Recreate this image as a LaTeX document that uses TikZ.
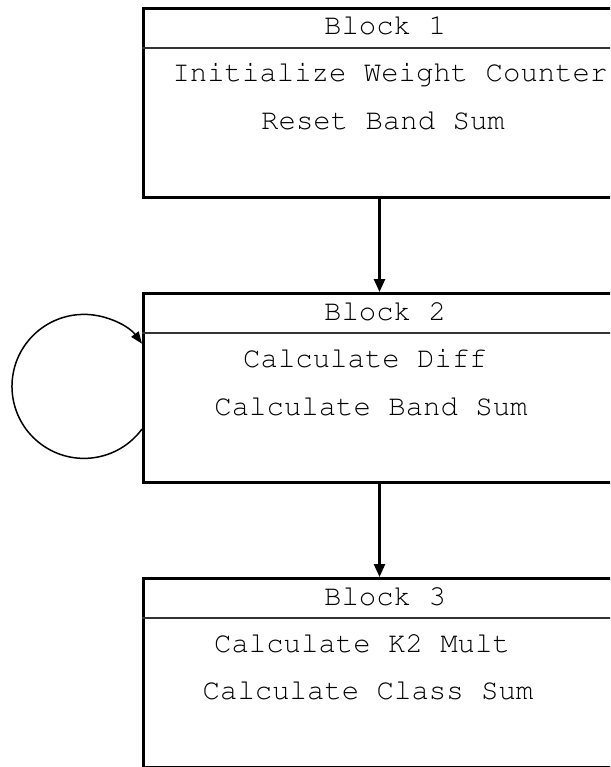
\documentclass[tikz,border=0pt]{standalone}
\usepackage[T1]{fontenc}
\usetikzlibrary{arrows.meta}
\tikzset{
  blockbox/.style={draw=black, line width=3pt, rectangle, minimum width=486pt, minimum height=189pt, anchor=north west, inner sep=0pt},
  headline/.style={draw=black!80, line width=2pt},
  txt/.style={anchor=base, inner sep=0pt, font=\fontfamily{pcr}\fontsize{29}{34}\selectfont},
  arr/.style={line width=2.5pt, -{Triangle[length=13pt,width=11pt]}},
  loopline/.style={line width=1.5pt, -{Triangle[length=12pt,width=9pt]}}
}
\begin{document}
\begin{tikzpicture}[x=1pt,y=-1pt]
\clip (0,0) rectangle (610,767);
\fill[white] (0,0) rectangle (610,767);
% boxes
\node[blockbox] (b1) at (142,7) {};
\node[blockbox] (b2) at (142,292) {};
\node[blockbox] (b3) at (142,577) {};
% header lines
\draw[headline] ([yshift=-41pt]b1.north west) -- ([yshift=-41pt]b1.north east);
\draw[headline] ([yshift=-41pt]b2.north west) -- ([yshift=-41pt]b2.north east);
\draw[headline] ([yshift=-41pt]b3.north west) -- ([yshift=-41pt]b3.north east);
% texts
\node[txt] (t1h) at (385,35) {Block 1};
\node[txt] (t1a) at (390,82) {Initialize Weight Counter};
\node[txt] (t1b) at (383,130) {Reset Band Sum};
\node[txt] (t2h) at (385,320) {Block 2};
\node[txt] (t2a) at (365,367) {Calculate Diff};
\node[txt] (t2b) at (371,415) {Calculate Band Sum};
\node[txt] (t3h) at (385,605) {Block 3};
\node[txt] (t3a) at (362,652) {Calculate K2 Mult};
\node[txt] (t3b) at (368,699) {Calculate Class Sum};
% arrows
\draw[arr] ([xshift=-7pt]b1.south) -- ([xshift=-7pt]b2.north);
\draw[arr] ([xshift=-7pt]b2.south) -- ([xshift=-7pt]b3.north);
% loop
\draw[loopline] ([yshift=-41pt]b2.west) arc[start angle=36.3, end angle=323.7, radius=72];
\end{tikzpicture}
\end{document}
